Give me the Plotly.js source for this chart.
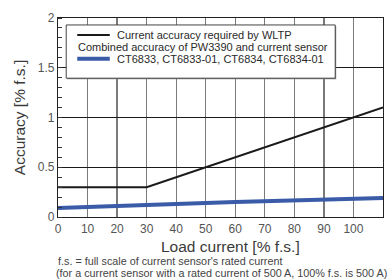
<!DOCTYPE html>
<html><head><meta charset="utf-8">
<script src="https://cdn.plot.ly/plotly-3.0.1.min.js"></script>
<style>html,body{margin:0;padding:0;background:#fff}#chart{width:391px;height:280px}</style>
</head><body><div id="chart"></div>
<script>
// Data
const wltpLoad = [0, 30, 110];
const wltpAccuracy = [0.3, 0.3, 1.1];
const ctLoad = [0, 30, 60, 110];
const ctAccuracy = [0.09, 0.122, 0.15, 0.19];
const xTicks = [0, 10, 20, 30, 40, 50, 60, 70, 80, 90, 100, 110];
const yTicks = [0, 0.5, 1, 1.5, 2];
const yTickLabels = ['0', '0.5', '1', '1.5', '2'];
const legendLabels = ['Current accuracy required by WLTP', 'Combined accuracy of PW3390 and current sensor', 'CT6833, CT6833-01, CT6834, CT6834-01'];
const xTitle = 'Load current [% f.s.]';
const yTitle = 'Accuracy [% f.s.]';
const notes = ["f.s. = full scale of current sensor's rated current", '(for a current sensor with a rated current of 500 A, 100% f.s. is 500 A)'];

const font = 'Liberation Sans, Arial, sans-serif';
const traces = [
  {x: wltpLoad, y: wltpAccuracy, mode: 'lines', line: {color: '#1a1a1a', width: 2}, showlegend: false, hoverinfo: 'skip'},
  {x: ctLoad, y: ctAccuracy, mode: 'lines', line: {color: '#3a5ba8', width: 4}, showlegend: false, hoverinfo: 'skip'}
];

// legend box in paper coords
const W = 391 - 58.3 - 8.3, H = 280 - 17.5 - 62.5;
const px = v => (v - 58.3) / W;
const py = v => 1 - (v - 17.5) / H;

const layout = {
  width: 391, height: 280,
  margin: {l: 58.3, r: 8.3, t: 17.5, b: 62.5},
  paper_bgcolor: '#fff', plot_bgcolor: '#fff',
  font: {family: font, color: '#333'},
  showlegend: false,
  xaxis: {
    range: [0, 110], tickvals: xTicks, ticktext: xTicks.map(String),
    showgrid: true, gridcolor: '#7a7a7a', gridwidth: 1.2,
    showline: true, linecolor: '#222', linewidth: 1.2, mirror: true,
    zeroline: false, ticks: '', tickfont: {size: 12, color: '#555'}
  },
  yaxis: {
    range: [0, 2], tickvals: yTicks, ticktext: yTickLabels,
    showgrid: true, gridcolor: '#1a1a1a', gridwidth: 1.2,
    showline: true, linecolor: '#222', linewidth: 1.2, mirror: true,
    zeroline: false, ticks: '', tickfont: {size: 12, color: '#555'},
    minor: {dtick: 0.1, tick0: 0, ticks: 'inside', ticklen: 4, tickcolor: '#333', tickwidth: 1, showgrid: false},
    title: {text: yTitle, font: {size: 15.5, color: '#3a3a3a'}, standoff: 8}
  },
  shapes: [
    {type: 'rect', xref: 'paper', yref: 'paper', x0: px(67.5), x1: px(336), y0: py(79), y1: py(25.5), fillcolor: '#888', line: {width: 0}, layer: 'above'},
    {type: 'rect', xref: 'paper', yref: 'paper', x0: px(66.5), x1: px(335), y0: py(78), y1: py(24.5), fillcolor: '#fff', line: {color: '#444', width: 1}, layer: 'above'},
    {type: 'line', xref: 'paper', yref: 'paper', x0: px(77.5), x1: px(110), y0: py(34.5), y1: py(34.5), line: {color: '#1a1a1a', width: 2}, layer: 'above'},
    {type: 'line', xref: 'paper', yref: 'paper', x0: px(77.5), x1: px(110), y0: py(58.5), y1: py(58.5), line: {color: '#3a5ba8', width: 4}, layer: 'above'}
  ],
  annotations: [
    {xref: 'paper', yref: 'paper', x: px(115.5), y: py(35), xanchor: 'left', yanchor: 'middle', text: legendLabels[0], showarrow: false, font: {size: 11, color: '#2a2a2a'}},
    {xref: 'paper', yref: 'paper', x: px(76), y: py(47), xanchor: 'left', yanchor: 'middle', text: legendLabels[1], showarrow: false, font: {size: 11, color: '#2a2a2a'}},
    {xref: 'paper', yref: 'paper', x: px(115.5), y: py(59), xanchor: 'left', yanchor: 'middle', text: legendLabels[2], showarrow: false, font: {size: 11, color: '#2a2a2a'}},
    {xref: 'paper', yref: 'paper', x: px(230), y: py(247), xanchor: 'center', yanchor: 'middle', text: xTitle, showarrow: false, font: {size: 15.5, color: '#3a3a3a'}},
    {xref: 'paper', yref: 'paper', x: px(56), y: py(262), xanchor: 'left', yanchor: 'middle', text: notes[0], showarrow: false, font: {size: 10.8, color: '#444'}},
    {xref: 'paper', yref: 'paper', x: px(54), y: py(273.5), xanchor: 'left', yanchor: 'middle', text: notes[1], showarrow: false, font: {size: 10.8, color: '#444'}}
  ]
};

Plotly.newPlot('chart', traces, layout, {displayModeBar: false, staticPlot: true});
</script></body></html>
